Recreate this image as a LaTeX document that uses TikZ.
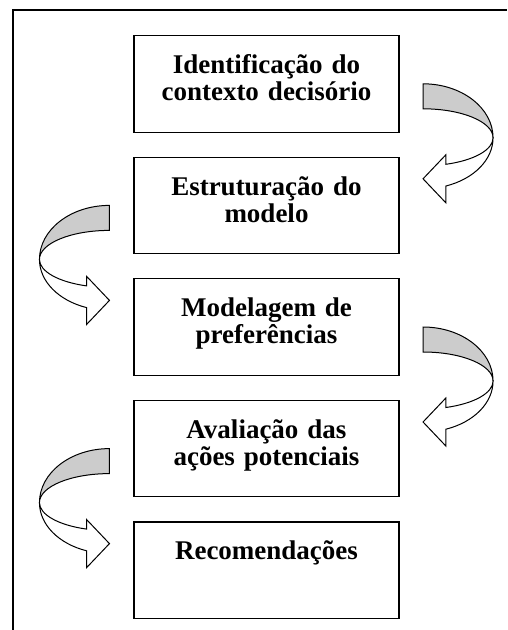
\documentclass[tikz,border=0pt]{standalone}
\usepackage{fontspec}
\setmainfont{Liberation Serif}
\usetikzlibrary{positioning}

\begin{document}
\begin{tikzpicture}[
    x=1pt, y=1pt,
    stage/.style={rectangle, draw, line width=1.1pt, minimum width=265pt, text width=265pt, inner sep=0pt, align=center, text height=38pt, text depth=58.5pt, font=\bfseries\fontsize{27}{27}\selectfont},
    turnright/.pic={
        \filldraw[line width=1pt, fill=gray!40] (0,0) arc[start angle=90, end angle=0, x radius=70, y radius=54]
            arc[start angle=0, end angle=90, x radius=70, y radius=29] -- cycle;
        \filldraw[line width=1pt, fill=white] (70,-54) arc[start angle=0, end angle=-71, x radius=70, y radius=51]
            -- (22.8,-119) -- (0,-95) -- (22.8,-71) -- (22.8,-80.5)
            arc[start angle=-71, end angle=0, x radius=70, y radius=28] -- cycle;
    }
]

\useasboundingbox (0,0) rectangle (507,-630);

% outer frame
\draw[line width=1.1pt] (13,-630) -- (13,-10) -- (507,-10);

% stages
\node[stage, anchor=north] (ident) at (266.5,-35) {Identificação do\\contexto decisório};
\node[stage, below=24pt of ident] (estrut) {Estruturação do\\modelo};
\node[stage, below=24pt of estrut] (model) {Modelagem de\\preferências};
\node[stage, below=24pt of model] (aval) {Avaliação das\\ações potenciais};
\node[stage, below=24pt of aval] (recom) {Recomendações};

% curved arrows between stages
\pic at ([xshift=23.5pt]ident.east) {turnright};
\pic[xscale=-1] at ([xshift=-24pt]estrut.west) {turnright};
\pic at ([xshift=23.5pt]model.east) {turnright};
\pic[xscale=-1] at ([xshift=-24pt]aval.west) {turnright};

\end{tikzpicture}
\end{document}
